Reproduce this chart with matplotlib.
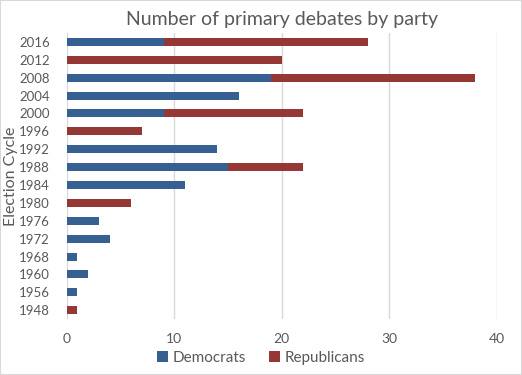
import matplotlib.pyplot as plt
from matplotlib.patches import Rectangle

years = ["2016", "2012", "2008", "2004", "2000", "1996", "1992", "1988",
         "1984", "1980", "1976", "1972", "1968", "1960", "1956", "1948"]
democrats = [9, 0, 19, 16, 9, 0, 14, 15, 11, 0, 3, 4, 1, 2, 1, 0]
republicans = [19, 20, 19, 0, 13, 7, 0, 7, 0, 6, 0, 0, 0, 0, 0, 1]

plt.rcParams["font.family"] = ["Lato", "DejaVu Sans"]
text_col = "#595959"

fig = plt.figure(figsize=(5.22, 3.75), dpi=100)
ax = fig.add_axes([0.1278, 0.149, 0.8242, 0.763])

pos = list(range(len(years)))
ax.barh(pos, democrats, height=0.45, color="#376092", label="Democrats")
ax.barh(pos, republicans, left=democrats, height=0.45, color="#953735",
        label="Republicans")

ax.set_ylim(len(years) - 0.5, -0.5)
ax.set_xlim(0, 40)
ax.set_xticks([0, 10, 20, 30, 40])
ax.set_yticks(pos)
ax.set_yticklabels(years)
ax.grid(axis="x", color="#d9d9d9", linewidth=1)
ax.set_axisbelow(True)
for s in ax.spines.values():
    s.set_visible(False)
ax.tick_params(length=0, labelsize=9.5, colors=text_col, pad=12)
ax.tick_params(axis="x", labelsize=10, pad=10)

ax.set_ylabel("Election Cycle", fontsize=11.5, color=text_col)
ax.yaxis.set_label_coords(-0.113, 0.5)
ax.set_title("Number of primary debates by party", fontsize=14,
             color=text_col, pad=6)

fig.legend(loc="lower center", ncol=2, frameon=False, fontsize=11,
           labelcolor=text_col, handlelength=0.7, handleheight=0.7,
           handletextpad=0.3, columnspacing=1.5, bbox_to_anchor=(0.5, -0.01))

fig.patches.append(Rectangle((0, 0), 1, 1, transform=fig.transFigure,
                             fill=False, edgecolor="#d9d9d9", linewidth=1.5))

fig.savefig("out.png", dpi=100)
